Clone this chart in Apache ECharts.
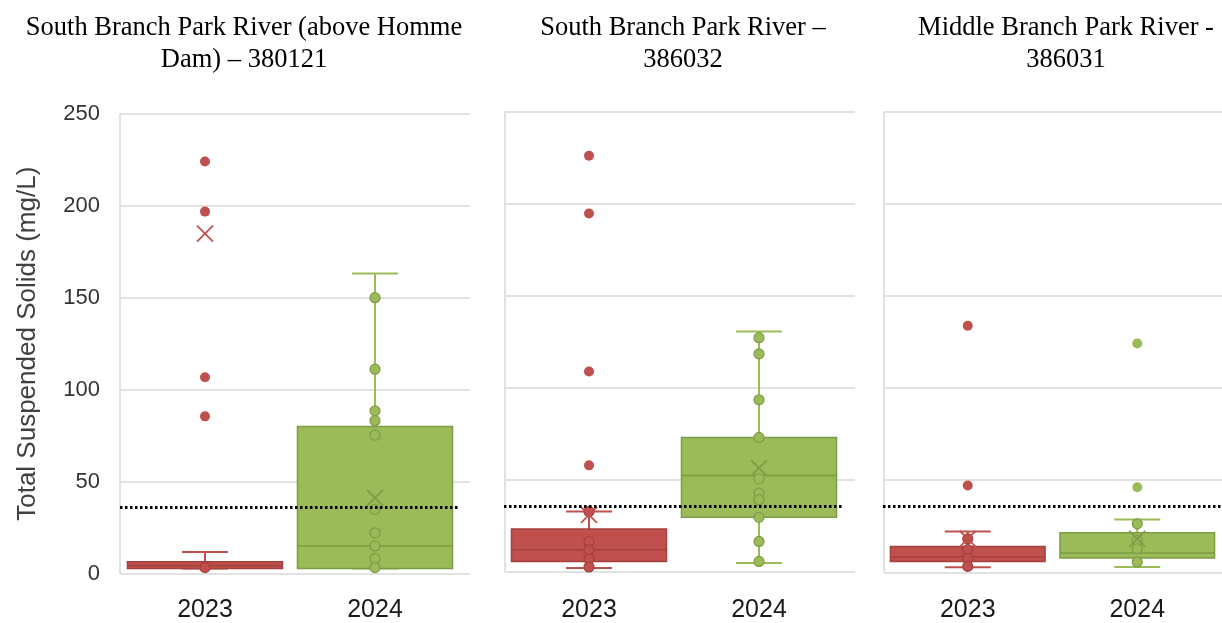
<!DOCTYPE html>
<html><head><meta charset="utf-8">
<script src="https://cdn.jsdelivr.net/npm/echarts@6/dist/echarts.min.js"></script>
<style>html,body{margin:0;padding:0;background:#fff}#c{width:1222px;height:623px}</style>
</head><body><div id="c"></div>
<script>
// ---- data ----
const categories = ['2023', '2024'];
const yTicks = [0, 50, 100, 150, 200, 250];
const threshold = 35;
const siteTitles = [
  'South Branch Park River (above Homme\nDam) \u2013 380121',
  'South Branch Park River \u2013\n386032',
  'Middle Branch Park River -\n386031'
];
// box stats: [whiskerLow, q1, median, q3, whiskerHigh]
const s1Box2023 = [1.4, 1.4, 3.0, 5.0, 10.4];
const s1Box2024 = [1.4, 1.4, 13.7, 79.0, 162.8];
const s1Mean = [184.6, 40.0];
const s1Pts2023 = [1.9];
const s1Pts2024 = [149.5, 110.4, 87.6, 82.2, 74.3, 33.7, 20.9, 13.7, 6.8, 1.9];
const s1Out2023 = [224, 196.6, 106, 84.6];
const s1Out2024 = [];

const s2Box2023 = [1.6, 5.2, 11.6, 22.8, 32.4];
const s2Box2024 = [4.3, 29.2, 52.0, 72.7, 130.4];
const s2Mean = [30.6, 56.0];
const s2Pts2023 = [32.4, 16.1, 11.6, 6.5, 2.2];
const s2Pts2024 = [127, 118.2, 93.2, 72.7, 50.2, 42.4, 38.8, 29.2, 16.1, 5.2];
const s2Out2023 = [226, 194.6, 108.6, 57.5];
const s2Out2024 = [];

const s3Box2023 = [2.0, 5.2, 7.6, 13.4, 21.5];
const s3Box2024 = [2.2, 7.1, 9.8, 20.8, 28.0];
const s3Mean = [17.5, 17.5];
const s3Pts2023 = [17.5, 11.6, 6.7, 2.5];
const s3Pts2024 = [25.7, 16.6, 12.1, 4.9];
const s3Out2023 = [133.5, 46.5];
const s3Out2024 = [123.8, 45.6];

// ---- styling / layout ----
const FILL = ['#C0504D', '#9BBB59'];
const DARK = ['#A4403D', '#7E9C45'];
const GRIDC = '#d9d9d9';
const panels = [
  {title: siteTitles[0], tx: 239, aLeft: 120, aW: 350, bLeft: 120, top: 114, h: 459.5,
   box: [s1Box2023, s1Box2024], mean: s1Mean, pts: [s1Pts2023, s1Pts2024], out: [s1Out2023, s1Out2024], labels: true},
  {title: siteTitles[1], tx: 678, aLeft: 505, aW: 350, bLeft: 504, top: 111.7, h: 459.6,
   box: [s2Box2023, s2Box2024], mean: s2Mean, pts: [s2Pts2023, s2Pts2024], out: [s2Out2023, s2Out2024], labels: false},
  {title: siteTitles[2], tx: 1061, aLeft: 884, aW: 338, bLeft: 883, top: 111.7, h: 460.6,
   box: [s3Box2023, s3Box2024], mean: s3Mean, pts: [s3Pts2023, s3Pts2024], out: [s3Out2023, s3Out2024], labels: false}
];

const grid = [], xAxis = [], yAxis = [], series = [], title = [];
const CAT_W = 340;

function renderBox(params, api) {
  const c = api.value(0);
  const i = c;
  const lo = api.coord([c, api.value(1)]);
  const q1 = api.coord([c, api.value(2)]);
  const md = api.coord([c, api.value(3)]);
  const q3 = api.coord([c, api.value(4)]);
  const hi = api.coord([c, api.value(5)]);
  const bw = api.size([1, 0])[0] * 0.456;
  const cw = 23;
  const x = lo[0];
  const ws = {stroke: FILL[i], lineWidth: 2};
  return {type: 'group', children: [
    {type: 'line', shape: {x1: x, y1: q3[1], x2: x, y2: hi[1]}, style: ws},
    {type: 'line', shape: {x1: x, y1: lo[1], x2: x, y2: q1[1]}, style: ws},
    {type: 'line', shape: {x1: x - cw, y1: hi[1], x2: x + cw, y2: hi[1]}, style: ws},
    {type: 'line', shape: {x1: x - cw, y1: lo[1], x2: x + cw, y2: lo[1]}, style: ws},
    {type: 'rect', shape: {x: x - bw, y: q3[1], width: bw * 2, height: q1[1] - q3[1]},
     style: {fill: FILL[i], stroke: DARK[i], lineWidth: 1.5}},
    {type: 'line', shape: {x1: x - bw, y1: md[1], x2: x + bw, y2: md[1]}, style: {stroke: DARK[i], lineWidth: 1.5}}
  ]};
}
function renderMean(params, api) {
  const c = api.value(0);
  const p = api.coord([c, api.value(1)]);
  const r = 8;
  const st = {stroke: c === 0 ? FILL[0] : DARK[1], lineWidth: 1.8};
  return {type: 'group', children: [
    {type: 'line', shape: {x1: p[0] - r, y1: p[1] - r, x2: p[0] + r, y2: p[1] + r}, style: st},
    {type: 'line', shape: {x1: p[0] - r, y1: p[1] + r, x2: p[0] + r, y2: p[1] - r}, style: st}
  ]};
}

panels.forEach((p, k) => {
  const ga = 2 * k, gb = 2 * k + 1;
  title.push({text: p.title, left: p.tx, top: 7, textAlign: 'center',
    textStyle: {fontFamily: 'Liberation Serif', fontSize: 26.5, fontWeight: 'normal', color: '#000', lineHeight: 32}});
  grid.push({left: p.aLeft, top: p.top, width: p.aW, height: p.h});
  grid.push({left: p.bLeft, top: p.top, width: CAT_W, height: p.h});
  // grid A: gridlines
  xAxis.push({type: 'value', gridIndex: ga, min: 0, max: 1, show: false});
  yAxis.push({type: 'value', gridIndex: ga, min: 0, max: 250, interval: 50,
    axisLine: {show: true, lineStyle: {color: GRIDC, width: 1.5}},
    axisTick: {show: false},
    splitLine: {show: true, lineStyle: {color: GRIDC, width: 1.5}},
    axisLabel: {show: p.labels, margin: 20, fontFamily: 'Liberation Sans', fontSize: 22, color: '#333'},
    name: p.labels ? 'Total Suspended Solids (mg/L)' : '',
    nameLocation: 'middle', nameGap: 79, nameRotate: 90,
    nameTextStyle: {fontFamily: 'Liberation Sans', fontSize: 26, color: '#404040'}
  });
  // grid B: categories
  xAxis.push({type: 'category', gridIndex: gb, data: categories,
    axisLine: {show: false}, axisTick: {show: false},
    axisLabel: {margin: 27, fontFamily: 'Liberation Sans', fontSize: 25, color: '#1a1a1a'}});
  yAxis.push({type: 'value', gridIndex: gb, min: 0, max: 250, interval: 50, show: false, splitLine: {show: false}});

  const xa = 2 * k + 1, ya = 2 * k + 1;
  series.push({type: 'custom', xAxisIndex: xa, yAxisIndex: ya, z: 2, renderItem: renderBox,
    encode: {x: 0, y: [1, 2, 3, 4, 5]},
    data: p.box.map((b, i) => [i, ...b])});
  [0, 1].forEach(i => {
    series.push({type: 'scatter', xAxisIndex: xa, yAxisIndex: ya, z: 3, symbol: 'circle', symbolSize: 10,
      data: p.pts[i].map(v => [i, v]),
      itemStyle: {color: FILL[i], borderColor: DARK[i], borderWidth: 1.2, opacity: 1},
      markLine: i === 0 ? {silent: true, symbol: 'none', label: {show: false},
        lineStyle: {color: '#000', type: [2.5, 2.5], width: 3},
        data: [{yAxis: threshold}]} : undefined});
    series.push({type: 'scatter', xAxisIndex: xa, yAxisIndex: ya, z: 3, symbol: 'circle', symbolSize: 10,
      data: p.out[i].map(v => [i, v]), itemStyle: {color: FILL[i], opacity: 1}});
  });
  series.push({type: 'custom', xAxisIndex: xa, yAxisIndex: ya, z: 4, renderItem: renderMean,
    encode: {x: 0, y: 1},
    data: p.mean.map((m, i) => [i, m])});
});

const chart = echarts.init(document.getElementById('c'), null, {renderer: 'canvas'});
chart.setOption({animation: false, title, grid, xAxis, yAxis, series});
</script>
</body></html>
